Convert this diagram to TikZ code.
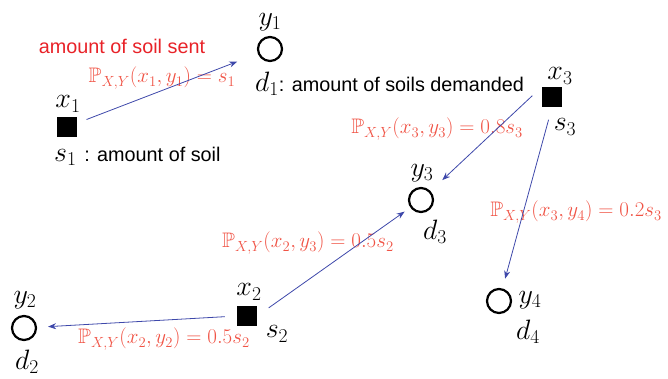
\RequirePackage{fix-cm}
\documentclass[tikz,border=0pt]{standalone}
\usepackage{amssymb}
\usepackage[no-math]{fontspec}
\setmainfont{Liberation Sans}
\usetikzlibrary{arrows.meta}
\definecolor{soilred}{RGB}{232,34,40}
\definecolor{probred}{RGB}{240,84,70}
\definecolor{flowblue}{RGB}{62,72,170}
\newcommand{\txtsize}{\fontsize{19.8}{22}\selectfont}
\tikzset{
  supply/.style={fill=black, minimum size=20pt, inner sep=0pt},
  demand/.style={circle, draw=black, line width=2.2pt, minimum size=24pt, inner sep=0pt},
  mlabel/.style={font=\fontsize{28}{30}\selectfont, inner sep=0pt},
  tlabel/.style={font=\txtsize, inner sep=0pt},
  plabel/.style={text=probred, font=\fontsize{21}{24}\selectfont, inner sep=0pt},
  flow/.style={->, draw=flowblue, line width=0.8pt},
}
\begin{document}
\begin{tikzpicture}[x=1pt, y=-1pt, >={Stealth[length=8pt,width=6pt]}]
  \useasboundingbox (0,0) rectangle (668,378);

  % 供给点 (方块)
  \node[supply] (x1) at (67,127) {};
  \node[supply] (x2) at (247,316) {};
  \node[supply] (x3) at (552,97) {};

  % 需求点 (圆圈)
  \node[demand] (y1) at (270,49) {};
  \node[demand] (y2) at (24,328) {};
  \node[demand] (y3) at (421,200) {};
  \node[demand] (y4) at (499,301) {};

  % 点的名称与数量
  \node[mlabel] (x1name) at (68,104) {$x_1$};
  \node[mlabel, anchor=west] (x1amount) at (54,156) {$s_1$ {\txtsize: amount of soil}};
  \node[mlabel] (x2name) at (249,292) {$x_2$};
  \node[mlabel] (x2amount) at (277,334) {$s_2$};
  \node[mlabel] (x3name) at (560,76) {$x_3$};
  \node[mlabel] (x3amount) at (565,127) {$s_3$};
  \node[mlabel] (y1name) at (270,22) {$y_1$};
  \node[mlabel, anchor=west] (y1amount) at (255,84) {$d_1${\txtsize: amount of soils demanded}};
  \node[mlabel] (y2name) at (25,300) {$y_2$};
  \node[mlabel] (y2amount) at (27,362) {$d_2$};
  \node[mlabel] (y3name) at (422,173) {$y_3$};
  \node[mlabel] (y3amount) at (435,232) {$d_3$};
  \node[mlabel] (y4name) at (530,300) {$y_4$};
  \node[mlabel] (y4amount) at (528,332) {$d_4$};

  % 红色说明
  \node[tlabel, text=soilred] (sent) at (122,46) {amount of soil sent};

  % 运送量标注
  \node[plabel] (p11) at (162,78) {$\mathbb{P}_{X,Y}(x_1,y_1)=s_1$};
  \node[plabel] (p33) at (437,129) {$\mathbb{P}_{X,Y}(x_3,y_3)=0.8s_3$};
  \node[plabel] (p34) at (576,212) {$\mathbb{P}_{X,Y}(x_3,y_4)=0.2s_3$};
  \node[plabel] (p23) at (308,243) {$\mathbb{P}_{X,Y}(x_2,y_3)=0.5s_2$};
  \node[plabel] (p22) at (164,339) {$\mathbb{P}_{X,Y}(x_2,y_2)=0.5s_2$};

  % 运送箭头
  \draw[flow, shorten <=10pt, shorten >=22pt] (x1) -- (y1);
  \draw[flow, shorten <=13pt, shorten >=16pt] (x3.north west) -- (y3);
  \draw[flow, shorten <=13pt, shorten >=10pt] (x3.south) -- (y4);
  \draw[flow, shorten <=14pt, shorten >=7pt] (x2.east) -- (y3);
  \draw[flow, shorten <=12pt, shorten >=11pt] (x2.west) -- (y2);
\end{tikzpicture}
\end{document}
